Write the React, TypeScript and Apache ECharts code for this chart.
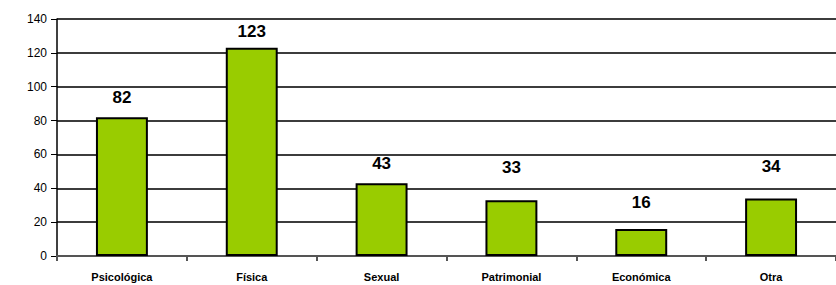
import React, { useEffect, useRef } from "react";
import * as echarts from "echarts";

const categories = ["Psicológica", "Física", "Sexual", "Patrimonial", "Económica", "Otra"];
const values = [82, 123, 43, 33, 16, 34];
const labelGaps = [6, 3, 6, 19, 13, 18];
const yTicks = { min: 0, max: 140, interval: 20 };

export default function App() {
  const ref = useRef<HTMLDivElement>(null);
  useEffect(() => {
    if (!ref.current) return;
    const chart = echarts.init(ref.current, null, { renderer: "svg" });
    const font = "'Liberation Sans', Arial, sans-serif";
    chart.setOption({
      animation: false,
      backgroundColor: "#ffffff",
      grid: { left: 57, top: 19, bottom: 29, right: 0 },
      xAxis: {
        type: "category",
        data: categories,
        axisLine: { show: true, lineStyle: { color: "#555", width: 2 } },
        axisTick: { show: true, length: 5, lineStyle: { color: "#555", width: 2 } },
        axisLabel: { fontFamily: font, fontSize: 11, fontWeight: "bold", color: "#000", margin: 15 },
      },
      yAxis: {
        type: "value",
        min: yTicks.min,
        max: yTicks.max,
        interval: yTicks.interval,
        axisLine: { show: true, lineStyle: { color: "#000", width: 1.5 } },
        axisTick: { show: true, length: 6, lineStyle: { color: "#000" } },
        axisLabel: { fontFamily: font, fontSize: 12, color: "#000", margin: 10 },
        splitLine: { show: true, lineStyle: { color: "#3c3c3c", width: 2 } },
      },
      series: [
        {
          type: "bar",
          data: values,
          barWidth: "40%",
          itemStyle: { color: "#99CC00", borderColor: "#000", borderWidth: 2 },
          label: {
            show: true,
            position: "top",
            distance: 5,
            fontFamily: font,
            fontSize: 17,
            fontWeight: "bold",
            color: "#000",
          },
          labelLayout: (p: any) => ({ dy: -labelGaps[p.dataIndex] }),
        },
      ],
    });
    return () => chart.dispose();
  }, []);
  return (
    <div
      ref={ref}
      style={{ position: "fixed", left: 0, top: 0, width: 836, height: 285 }}
    />
  );
}
